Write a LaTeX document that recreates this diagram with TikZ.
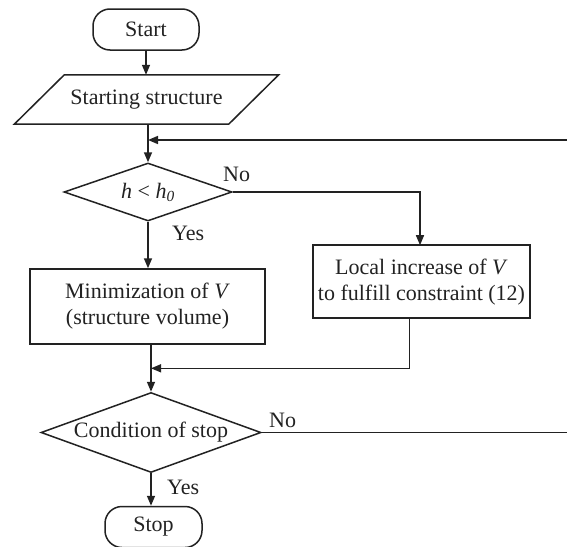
\documentclass[tikz,border=0pt]{standalone}
\usepackage{fontspec}
\setmainfont{Liberation Serif}
\usetikzlibrary{shapes.geometric,arrows.meta,calc}
\definecolor{ink}{HTML}{222222}
\tikzset{
  every node/.style={font=\fontsize{22}{26}\selectfont, text=ink},
  term/.style={draw=ink, line width=1.5pt, rectangle, rounded corners=17pt, inner sep=0pt},
  iobox/.style={rectangle, inner sep=0pt},
  iodraw/.style={draw=ink, line width=1.5pt},
  decide/.style={draw=ink, line width=1.5pt, diamond, inner sep=0pt},
  proc/.style={draw=ink, line width=1.5pt, rectangle, inner sep=0pt, align=center},
  lbl/.style={anchor=base west, inner sep=0pt},
  conn/.style={draw=ink, line width=1.5pt},
  arr/.style={conn, -{Triangle[length=10pt,width=8pt]}},
}
\begin{document}
\begin{tikzpicture}[x=1pt,y=-1pt]
\clip (0,0) rectangle (567,546);
\fill[white] (0,0) rectangle (567,546);
\node[term, minimum width=106pt, minimum height=41pt] (start) at (146,29.5) {Start};
\node[iobox, minimum width=214pt, minimum height=49pt] (init) at (146.5,99.5) {Starting structure};
\draw[iodraw] ($(init.south west)+(-25,0)$) -- ($(init.north west)+(25,0)$) -- ($(init.north east)+(25,0)$) -- ($(init.south east)+(-25,0)$) -- cycle;
\node[decide, aspect=2.9, minimum width=168pt, minimum height=58pt] (d1) at (148,192) {\textit{h} < \textit{h}\textsubscript{\textit{0}}};
\node[proc, minimum width=235pt, minimum height=75pt] (minv) at (147.5,306.5) {Minimization of \textit{V}\\(structure volume)};
\node[proc, minimum width=217pt, minimum height=73pt] (loc) at (421.5,281.7) {Local increase of \textit{V}\\to fulfill constraint (12)};
\node[decide, aspect=2.75, minimum width=220pt, minimum height=80pt] (d2) at (151,432.5) {Condition of stop};
\node[term, minimum width=97pt, minimum height=41pt] (stop) at (153.5,527) {Stop};

\node[lbl] (no1) at (223,181) {No};
\node[lbl] (yes1) at (172,240) {Yes};
\node[lbl] (no2) at (269,427) {No};
\node[lbl] (yes2) at (167,494) {Yes};

\coordinate (j1) at (148,140);
\coordinate (j2) at (151,368.3);
\coordinate (locin) at (420,245.2);
\coordinate (locout) at (409.7,318.2);
\coordinate (far) at (600,432.5);

\draw[arr] (start) -- (start |- init.north);
\draw[conn] (init.south -| j1) -- (j1);
\draw[arr] (j1) -- (d1.north);
\draw[arr] (d2.east) -- (far) |- (j1);
\draw[arr] (d1.east) -| (locin);
\draw[arr] (d1.south) -- (d1.south |- minv.north);
\draw[conn] (minv.south -| j2) -- (j2);
\draw[arr] (j2) -- (d2.north);
\draw[arr] (locout) |- (j2);
\draw[arr] (d2.south) -- (d2.south |- stop.north);
\end{tikzpicture}
\end{document}
